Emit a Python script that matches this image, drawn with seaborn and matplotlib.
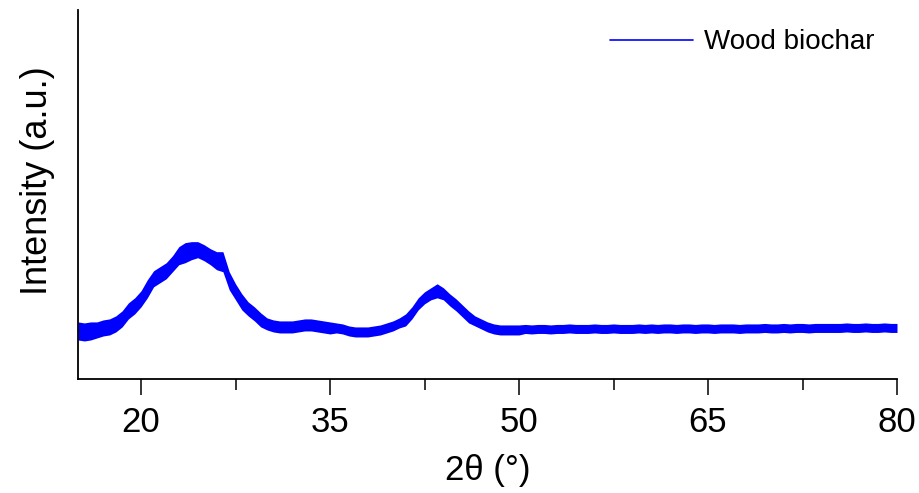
import numpy as np
import pandas as pd
import seaborn as sns
import matplotlib.pyplot as plt
from matplotlib.ticker import FixedLocator

# 2-theta sampling grid, 15 to 80 degrees in 0.5 degree steps
two_theta = np.arange(15.0, 80.01, 0.5)

intensity = [
    48, 47, 48, 49, 51, 52, 55, 60, 68, 73,            # 15.0 - 19.5
    80, 90, 100, 104, 108, 115, 123, 126, 128, 129,    # 20.0 - 24.5
    126, 122, 118, 117, 98, 87, 77, 70, 65, 59,        # 25.0 - 29.5
    55, 53, 52, 52, 52, 53, 54, 54, 53, 52,            # 30.0 - 34.5
    51, 51, 50, 48, 47, 47, 47, 48, 49, 51,            # 35.0 - 39.5
    53, 56, 59, 66, 75, 81, 85, 88, 85, 79,            # 40.0 - 44.5
    74, 68, 62, 58, 55, 52, 50, 49, 49, 49,            # 45.0 - 49.5
    49, 50, 49.5, 50, 50, 49.5, 50, 50, 50.5, 50,      # 50.0 - 54.5
    50, 50, 50.5, 50, 50, 50.5, 50, 50, 50, 50.5,      # 55.0 - 59.5
    50, 50.5, 50, 50.5, 50.5, 50, 50.5, 50.5, 50, 50.5,  # 60.0 - 64.5
    50.5, 50, 50.5, 50.5, 50.5, 50, 50.5, 50.5, 50.5, 51,  # 65.0 - 69.5
    50.5, 50.5, 51, 50.5, 51, 51, 50.5, 51, 51, 51,    # 70.0 - 74.5
    51, 51, 51.5, 51, 51, 51.5, 51, 51, 51.5, 51,      # 75.0 - 79.5
    51,                                                # 80.0
]

# half width of the noise band around the centre (a.u.)
spread = (
    [9, 9, 9, 8, 8, 8, 8, 8, 8]
    + [8, 8, 9, 8, 8, 8, 8, 9, 10, 9, 8, 8, 8, 9, 10, 9]
    + [8, 8, 7, 7, 7, 6, 6, 6]
    + [6, 6, 6, 6, 6, 6, 6, 6, 5, 5, 5, 5, 5, 5, 5, 5, 5, 5]
    + [5, 6, 6, 6, 6, 6, 7, 6, 6, 6, 6, 6, 5, 5]
    + [5, 5, 5, 5, 5, 5]
    + [4.5] * 60
)

major_ticks = [20, 35, 50, 65, 80]
minor_ticks = [27.5, 42.5, 57.5, 72.5]
series_name = "Wood biochar"

df = pd.DataFrame({"two_theta": two_theta, "intensity": intensity, "spread": spread})
df["sample"] = series_name

sns.set_style("white")
plt.rcParams["font.family"] = ["Liberation Sans", "DejaVu Sans"]
plt.rcParams["text.color"] = "black"
plt.rcParams["axes.labelcolor"] = "black"
plt.rcParams["xtick.color"] = "black"

fig = plt.figure(figsize=(9.2, 4.93), dpi=100)
ax = fig.add_axes([0.0848, 0.231, 0.8902, 0.749])

# noise band of the raw scan
ax.fill_between(
    df["two_theta"],
    df["intensity"] - df["spread"],
    df["intensity"] + df["spread"],
    color="#0000ff",
    linewidth=0,
)
sns.lineplot(
    data=df, x="two_theta", y="intensity", hue="sample",
    palette=["#0000ff"], linewidth=1.2, ax=ax,
)

ax.set_xlim(15, 80)
ax.set_ylim(0, 368)
ax.set_xticks(major_ticks)
ax.xaxis.set_minor_locator(FixedLocator(minor_ticks))
ax.set_yticks([])

for side in ["top", "right"]:
    ax.spines[side].set_visible(False)
for side in ["left", "bottom"]:
    ax.spines[side].set_linewidth(1.3)
    ax.spines[side].set_color("black")

ax.tick_params(axis="x", which="major", direction="out", length=11.5, width=1.1,
               labelsize=25, pad=8, bottom=True, colors="black")
ax.tick_params(axis="x", which="minor", direction="out", length=8, width=1.1,
               bottom=True, colors="black")

ax.set_xlabel("2θ (°)", fontsize=25, labelpad=11)
ax.set_ylabel("Intensity (a.u.)", fontsize=26)
ax.yaxis.set_label_coords(-0.028, 0.537)

leg = ax.legend(
    loc="upper right", bbox_to_anchor=(1.003, 1.015), frameon=False,
    fontsize=20, handlelength=3.0, handletextpad=0.4,
)
for t in leg.get_texts():
    t.set_color("black")

fig.savefig("out.png", dpi=100)
